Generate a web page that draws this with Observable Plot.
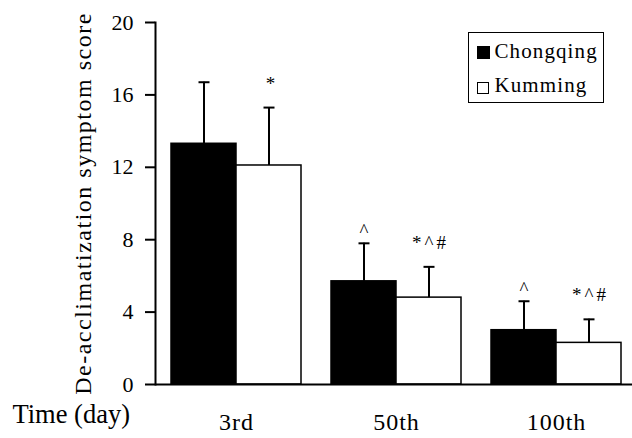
<!DOCTYPE html>
<html>
<head>
<meta charset="utf-8">
<script src="https://cdn.jsdelivr.net/npm/d3@7"></script>
<script src="https://cdn.jsdelivr.net/npm/@observablehq/plot@0.6"></script>
<style>
  html, body { margin: 0; padding: 0; background: #ffffff; }
  #wrap { position: relative; width: 632px; height: 438px; }
  #legend {
    position: absolute; left: 468px; top: 32px; width: 134px; height: 69px;
    border: 1.5px solid #000; background: #fff;
    font-family: "Liberation Serif", serif; font-size: 21px; color: #000; letter-spacing: 1.1px;
  }
  #legend .sw { position: absolute; border: 1.5px solid #000; box-sizing: border-box; }
  #legend .lbl { position: absolute; line-height: 21px; white-space: nowrap; }
</style>
</head>
<body>
<div id="wrap"></div>
<script>
// ---- data ----
const days = ["3rd", "50th", "100th"];
const cities = ["Chongqing", "Kumming"];
const chongqingMean = [13.3, 5.7, 3.0];
const chongqingSD   = [3.4, 2.1, 1.6];
const kummingMean   = [12.1, 4.8, 2.3];
const kummingSD     = [3.2, 1.7, 1.3];
const chongqingNote = ["", "^", "^"];
const kummingNote   = ["*", "*^#", "*^#"];
const yTicks = [0, 4, 8, 12, 16, 20];
const yLabel = "De-acclimatization symptom score";
const xLabel = "Time (day)";

const rows = days.flatMap((d, i) => [
  {day: d, city: cities[0], mean: chongqingMean[i], sd: chongqingSD[i], note: chongqingNote[i]},
  {day: d, city: cities[1], mean: kummingMean[i], sd: kummingSD[i], note: kummingNote[i]}
]);
const cq = rows.filter(r => r.city === "Chongqing");
const km = rows.filter(r => r.city === "Kumming");

const capSymbol = {
  draw(context, size) {
    const r = Math.sqrt(size / Math.PI);
    context.moveTo(-r, 0);
    context.lineTo(r, 0);
  }
};

const serif = "Liberation Serif";

const chart = Plot.plot({
  width: 632,
  height: 438,
  marginLeft: 155,
  marginRight: -5,
  marginTop: 22,
  marginBottom: 54,
  style: {background: "#ffffff", color: "#000", overflow: "visible", fontFamily: "'Liberation Serif', serif"},
  x: {domain: days, padding: 0, label: null},
  y: {domain: [0, 20], label: null},
  marks: [
    Plot.barY(cq, {x: "day", y: "mean", fill: "#000", stroke: "#000", strokeWidth: 1.5, insetLeft: 15, insetRight: 80}),
    Plot.barY(km, {x: "day", y: "mean", fill: "#fff", stroke: "#000", strokeWidth: 1.5, insetLeft: 80, insetRight: 15}),
    Plot.ruleX(cq, {x: "day", y1: "mean", y2: d => d.mean + d.sd, dx: -32.5, stroke: "#000", strokeWidth: 2}),
    Plot.ruleX(km, {x: "day", y1: "mean", y2: d => d.mean + d.sd, dx: 32.5, stroke: "#000", strokeWidth: 2}),
    Plot.dot(cq, {x: "day", y: d => d.mean + d.sd, dx: -32.5, symbol: capSymbol, r: 5.5, stroke: "#000", strokeWidth: 2}),
    Plot.dot(km, {x: "day", y: d => d.mean + d.sd, dx: 32.5, symbol: capSymbol, r: 5.5, stroke: "#000", strokeWidth: 2}),
    Plot.text(cq, {x: "day", y: d => d.mean + d.sd, text: "note", dx: -32.5, dy: -12, fontFamily: serif, fontSize: 19, fill: "#000"}),
    Plot.text(km, {x: "day", y: d => d.mean + d.sd, text: "note", dx: 34, dy: -24, fontFamily: serif, fontSize: 19, fill: "#000"}),
    Plot.ruleY([0], {stroke: "#000", strokeWidth: 2}),
    Plot.frame({anchor: "left", stroke: "#000", strokeWidth: 2}),
    Plot.axisY({ticks: yTicks, tickSize: 10, tickPadding: 12, strokeWidth: 2, fontFamily: serif, fontSize: 22, label: null}),
    Plot.axisX({tickSize: 0, tickPadding: 28, fontFamily: serif, fontSize: 24, label: null}),
    Plot.text([yLabel], {frameAnchor: "left", textAnchor: "middle", dx: -72, rotate: -90, fontFamily: serif, fontSize: 24, fill: "#000"}),
    Plot.text([xLabel], {frameAnchor: "bottom-left", dx: -143, dy: 38, textAnchor: "start", fontFamily: serif, fontSize: 26.5, fill: "#000"})
  ]
});

const wrap = document.getElementById("wrap");
wrap.appendChild(chart);

// letter spacing on some texts to mimic the wide bitmap font of the original
chart.querySelectorAll("text").forEach(t => {
  const txt = t.textContent;
  if (txt === yLabel) t.style.letterSpacing = "1.5px";
  else if (days.includes(txt)) t.style.letterSpacing = "1px";
  else if (txt === "*^#") t.style.letterSpacing = "3px";
});

const legend = document.createElement("div");
legend.id = "legend";
const fills = ["#000", "#fff"];
const swTop = [12.5, 48.5];
const lblTop = [8, 42];
cities.forEach((c, i) => {
  const sw = document.createElement("div");
  sw.className = "sw";
  sw.style.background = fills[i];
  sw.style.left = "7.5px";
  sw.style.top = swTop[i] + "px";
  sw.style.width = (i === 0 ? 13 : 12) + "px";
  sw.style.height = (i === 0 ? 13 : 12) + "px";
  const t = document.createElement("span");
  t.className = "lbl";
  t.textContent = c;
  t.style.left = "25.5px";
  t.style.top = lblTop[i] + "px";
  legend.appendChild(sw);
  legend.appendChild(t);
});
wrap.appendChild(legend);
</script>
</body>
</html>
